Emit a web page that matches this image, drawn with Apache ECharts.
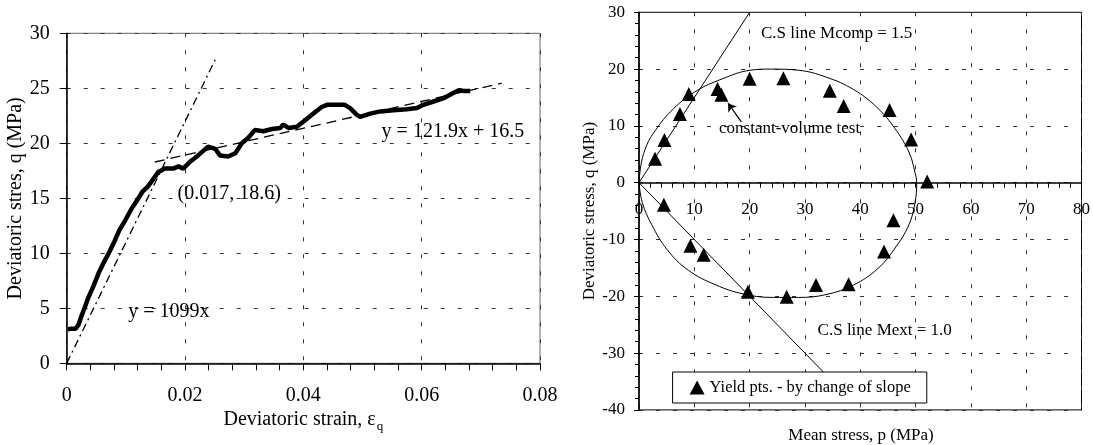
<!DOCTYPE html>
<html><head><meta charset="utf-8">
<script src="https://cdn.jsdelivr.net/npm/echarts@6/dist/echarts.min.js"></script>
<style>html,body{margin:0;padding:0;background:#fff}#c{width:1093px;height:445px}</style>
</head><body><div id="c"></div>
<script>
// ---- Left chart: stress-strain curve ----
var strainX = [0.0002,0.0008,0.0015,0.002,0.0025,0.003,0.0036,0.0045,0.0054,0.0063,0.0071,0.008,0.0089,0.0099,0.011,0.012,0.0128,0.0136,0.0143,
  0.0155,0.0166,0.018,0.0189,0.0197,0.0208,0.0222,0.0239,0.0251,0.0259,0.0273,0.0285,0.0296,0.0307,0.0318,0.0332,0.0347,0.0361,0.0366,0.0375,0.0389,
  0.0403,0.0417,0.0431,0.044,0.0456,0.047,0.0479,0.049,0.0496,0.0513,0.053,0.0552,0.0575,0.0592,0.0603,0.062,0.0637,0.0651,0.0662,0.0673,0.0682];
var stressQ = [3.1,3.15,3.15,3.5,4.3,5.0,5.9,7.0,8.2,9.2,10.0,11.0,12.1,13.0,14.1,14.9,15.6,16.0,16.5,
  17.4,17.7,17.7,17.9,17.7,18.3,18.9,19.7,19.5,18.9,18.8,19.1,20.0,20.5,21.2,21.1,21.3,21.4,21.7,21.4,21.5,
  22.1,22.7,23.3,23.5,23.5,23.5,23.2,22.6,22.4,22.7,22.9,23.0,23.1,23.2,23.5,23.8,24.1,24.5,24.8,24.75,24.75];
var initFitX = [0, 0.0252];
var initFitQ = [0, 27.7];
var postFitX = [0.0149, 0.0735];
var postFitQ = [18.3, 25.46];
var leftXTicks = ['0','0.02','0.04','0.06','0.08'];
var leftYTicks = ['0','5','10','15','20','25','30'];

// ---- Right chart: yield points in p-q plane ----
var yieldP = [2.9,4.6,7.4,9.0,14.2,14.9,20.0,26.1,34.5,37.0,45.3,49.2,52.1,46.0,44.3,37.9,32.0,26.7,19.7,11.7,9.3,4.5];
var yieldQ = [4.2,7.5,12.1,15.6,16.5,15.5,18.3,18.4,16.2,13.5,12.8,7.6,0.2,-6.6,-12.1,-17.9,-18.0,-20.1,-19.2,-12.7,-11.1,-3.9];
var ellipseP = [0,0.44,1.4,2.6,5.7,10.1,15.1,20.1,23.8,28.8,33.8,38.8,43.2,46.3,48.8,49.9,50.2,49.9,48.8,46.3,43.2,38.8,33.8,28.8,24.2,18.9,13.9,8.9,5.1,2.3,0.6,0];
var ellipseQ = [0,3.6,6.6,8.7,12.5,16.0,18.3,19.8,20.0,19.8,18.6,16.4,13.1,9.5,5.4,1.8,0,-3.5,-7.4,-11.5,-15.1,-18.0,-19.7,-20.2,-20.2,-19.6,-18.0,-15.4,-11.8,-7.4,-3.5,0];
var compLineP = [0, 20];
var compLineQ = [0, 30];
var extLineP = [0, 33.5];
var extLineQ = [0, -33.5];
var arrowP = [18.5, 16.1];
var arrowQ = [10.7, 14.0];
var rightXTicks = ['0','10','20','30','40','50','60','70','80'];
var rightYTicks = ['-40','-30','-20','-10','0','10','20','30'];

function pairs(a, b) { return a.map(function (v, i) { return [v, b[i]]; }); }

var FONT = "'Liberation Serif','Times New Roman',serif";
var gridLine = { show: true, lineStyle: { color: '#333', width: 1, type: [4, 13] } };
var axLine = { show: true, lineStyle: { color: '#000', width: 1.5 } };

var R_TOP = 12.3, R_H = 397.6, R_MIN = -40, R_MAX = 30;
var zeroOffset = -R_H * (0 - R_MIN) / (R_MAX - R_MIN); // lift x axis from bottom to q = 0

var chart = echarts.init(document.getElementById('c'));
chart.setOption({
  animation: false,
  backgroundColor: '#fff',
  textStyle: { fontFamily: FONT },
  grid: [
    { left: 66.7, top: 33.3, width: 473.3, height: 330, show: true, borderColor: '#666', borderWidth: 1, containLabel: false },
    { left: 639, top: R_TOP, width: 444.5, height: R_H, show: true, borderColor: '#000', borderWidth: 1, containLabel: false }
  ],
  xAxis: [
    { gridIndex: 0, type: 'value', min: 0, max: 0.08, interval: 0.02,
      axisLine: axLine, axisTick: { show: true, length: 7, lineStyle: { color: '#000' } },
      minorTick: { show: true, splitNumber: 5, length: 7, lineStyle: { color: '#000' } },
      splitLine: gridLine,
      axisLabel: { fontSize: 20, color: '#000', margin: 22, fontFamily: FONT,
        formatter: function (v) { return leftXTicks[Math.round(v / 0.02)]; } },
      name: 'Deviatoric strain, ε{sub|q}', nameLocation: 'middle', nameGap: 38,
      nameTextStyle: { fontSize: 20, color: '#000', fontFamily: FONT,
        rich: { sub: { fontSize: 13, fontFamily: FONT, color: '#000', padding: [12, 0, 0, 1] } } } },
    { gridIndex: 1, type: 'value', min: 0, max: 80, interval: 10, position: 'bottom', offset: zeroOffset,
      axisLine: { show: true, onZero: false, lineStyle: { color: '#000', width: 1.5 } },
      axisTick: { show: true, length: 5, lineStyle: { color: '#000' } },
      minorTick: { show: true, splitNumber: 5, length: 5, lineStyle: { color: '#000' } },
      splitLine: gridLine,
      axisLabel: { fontSize: 17, color: '#000', margin: 18, fontFamily: FONT,
        formatter: function (v) { return rightXTicks[Math.round(v / 10)]; } } }
  ],
  yAxis: [
    { gridIndex: 0, type: 'value', min: 0, max: 30, interval: 5,
      axisLine: axLine, axisTick: { show: true, length: 7, lineStyle: { color: '#000' } },
      splitLine: gridLine,
      axisLabel: { fontSize: 20, color: '#000', margin: 17, fontFamily: FONT,
        formatter: function (v) { return leftYTicks[Math.round(v / 5)]; } },
      name: 'Deviatoric stres, q (MPa)', nameLocation: 'middle', nameGap: 39, nameRotate: 90,
      nameTextStyle: { fontSize: 20, color: '#000', fontFamily: FONT } },
    { gridIndex: 1, type: 'value', min: R_MIN, max: R_MAX, interval: 10,
      axisLine: { show: true, onZero: false, lineStyle: { color: '#000', width: 1.5 } },
      axisTick: { show: true, length: 5, lineStyle: { color: '#000' } },
      minorTick: { show: true, splitNumber: 5, length: 4, lineStyle: { color: '#000' } },
      splitLine: gridLine,
      axisLabel: { fontSize: 17, color: '#000', margin: 14, fontFamily: FONT,
        formatter: function (v) { return rightYTicks[Math.round((v + 40) / 10)]; } },
      name: 'Deviatoric stress, q (MPa)', nameLocation: 'middle', nameGap: 41, nameRotate: 90,
      nameTextStyle: { fontSize: 17, color: '#000', fontFamily: FONT } }
  ],
  legend: {
    show: true, left: 672.6, top: 372, orient: 'horizontal',
    padding: [7, 16, 7, 17], borderColor: '#000', borderWidth: 1, backgroundColor: '#fff',
    itemWidth: 15, itemHeight: 14, icon: 'triangle',
    textStyle: { fontSize: 16.5, color: '#000', fontFamily: FONT },
    data: ['Yield pts. - by change of slope']
  },
  series: [
    { type: 'line', xAxisIndex: 0, yAxisIndex: 0, data: pairs(strainX, stressQ), showSymbol: false,
      lineStyle: { color: '#000', width: 4.5 }, z: 5 },
    { type: 'line', xAxisIndex: 0, yAxisIndex: 0, data: pairs(initFitX, initFitQ), showSymbol: false,
      lineStyle: { color: '#000', width: 1.3, type: [8, 4, 2, 4] }, z: 4 },
    { type: 'line', xAxisIndex: 0, yAxisIndex: 0, data: pairs(postFitX, postFitQ), showSymbol: false,
      lineStyle: { color: '#000', width: 1.3, type: [10, 6] }, z: 4 },

    { type: 'line', xAxisIndex: 1, yAxisIndex: 1, data: pairs(ellipseP, ellipseQ), showSymbol: false, smooth: 0.4,
      lineStyle: { color: '#000', width: 1 } },
    { type: 'line', xAxisIndex: 1, yAxisIndex: 1, data: pairs(compLineP, compLineQ), showSymbol: false,
      lineStyle: { color: '#000', width: 1 } },
    { type: 'line', xAxisIndex: 1, yAxisIndex: 1, data: pairs(extLineP, extLineQ), showSymbol: false,
      lineStyle: { color: '#000', width: 1 } },
    { type: 'lines', coordinateSystem: 'cartesian2d', xAxisIndex: 1, yAxisIndex: 1,
      symbol: ['none', 'arrow'], symbolSize: 8,
      lineStyle: { color: '#000', width: 1.2, opacity: 1 },
      data: [{ coords: pairs(arrowP, arrowQ) }] },
    { name: 'Yield pts. - by change of slope', type: 'scatter', xAxisIndex: 1, yAxisIndex: 1,
      data: pairs(yieldP, yieldQ), symbol: 'triangle', symbolSize: 14,
      itemStyle: { color: '#000', opacity: 1 }, z: 5 }
  ],
  graphic: [
    { type: 'text', z: 100, style: { text: 'y = 121.9x + 16.5', x: 381.6, y: 131.6, fill: '#000', font: '20px ' + FONT, textAlign: 'left', textVerticalAlign: 'middle', align: 'left', verticalAlign: 'middle' } },
    { type: 'text', z: 100, style: { text: '(0.017, 18.6)', x: 177.5, y: 193.3, fill: '#000', font: '20px ' + FONT, textAlign: 'left', textVerticalAlign: 'middle', align: 'left', verticalAlign: 'middle' } },
    { type: 'text', z: 100, style: { text: 'y = 1099x', x: 128.3, y: 311.7, fill: '#000', font: '20px ' + FONT, textAlign: 'left', textVerticalAlign: 'middle', align: 'left', verticalAlign: 'middle' } },
    { type: 'text', z: 100, style: { text: 'C.S line Mcomp = 1.5', x: 761, y: 33.2, fill: '#000', font: '17px ' + FONT, textAlign: 'left', textVerticalAlign: 'middle', align: 'left', verticalAlign: 'middle' } },
    { type: 'text', z: 100, style: { text: 'constant-volume test', x: 719, y: 128.5, fill: '#000', font: '17px ' + FONT, textAlign: 'left', textVerticalAlign: 'middle', align: 'left', verticalAlign: 'middle' } },
    { type: 'text', z: 100, style: { text: 'C.S line Mext = 1.0', x: 817.6, y: 330.7, fill: '#000', font: '17px ' + FONT, textAlign: 'left', textVerticalAlign: 'middle', align: 'left', verticalAlign: 'middle' } },
    { type: 'text', z: 100, style: { text: 'Mean stress, p (MPa)', x: 861, y: 436, fill: '#000', font: '17px ' + FONT, textAlign: 'center', textVerticalAlign: 'middle', align: 'center', verticalAlign: 'middle' } }
  ]
});
</script>
</body></html>
